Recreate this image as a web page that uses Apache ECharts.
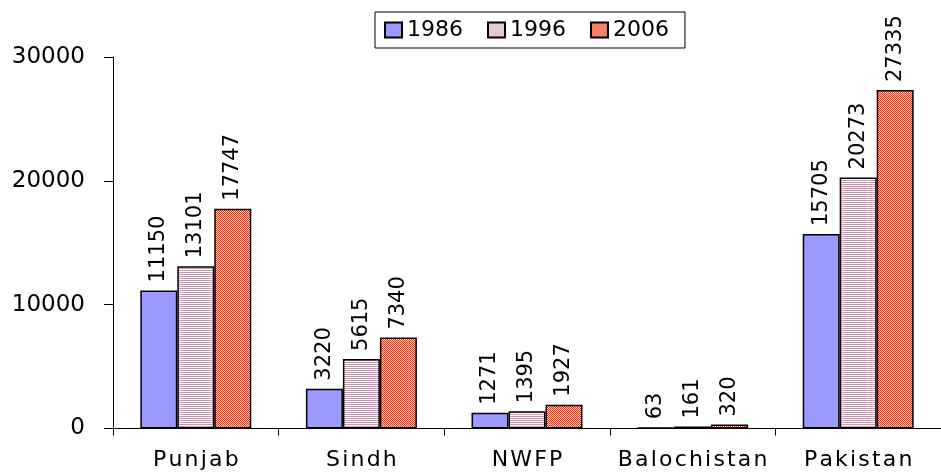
<!DOCTYPE html>
<html><head><meta charset="utf-8">
<script src="https://cdn.jsdelivr.net/npm/echarts@6/dist/echarts.min.js"></script>
<style>html,body{margin:0;padding:0;background:#fff}#c{width:941px;height:474px}</style>
</head><body><div id="c"></div>
<script>
const categories = ['Punjab', 'Sindh', 'NWFP', 'Balochistan', 'Pakistan'];
const seriesNames = ['1986', '1996', '2006'];
const values1986 = [11150, 3220, 1271, 63, 15705];
const values1996 = [13101, 5615, 1395, 161, 20273];
const values2006 = [17747, 7340, 1927, 320, 27335];
const yTicks = [0, 10000, 20000, 30000];

function makePattern(w, h, draw) {
  const cv = document.createElement('canvas');
  cv.width = w; cv.height = h;
  const ctx = cv.getContext('2d');
  draw(ctx);
  return { image: cv, repeat: 'repeat' };
}
const stripe = makePattern(2, 2, ctx => {
  ctx.fillStyle = '#ffffff'; ctx.fillRect(0, 0, 2, 2);
  ctx.fillStyle = '#cf92b1'; ctx.fillRect(0, 0, 2, 1);
});
const checker = makePattern(2, 2, ctx => {
  ctx.fillStyle = '#fb2a18'; ctx.fillRect(0, 0, 2, 2);
  ctx.fillStyle = '#ffd2b4'; ctx.fillRect(1, 0, 1, 1); ctx.fillRect(0, 1, 1, 1);
});

const FONT = 'DejaVu Sans';
const spaced = s => s.split('').join('\u200A');

function barSeries(name, data, color) {
  return {
    name: name, type: 'bar', data: data,
    barGap: '0%', barCategoryGap: '33%',
    itemStyle: { color: color, borderColor: '#000', borderWidth: 1.5 },
    label: {
      show: true, position: 'top', rotate: 90, align: 'left', verticalAlign: 'middle',
      distance: 8, fontFamily: FONT, fontSize: 21, color: '#000'
    }
  };
}

const chart = echarts.init(document.getElementById('c'), null, { renderer: 'canvas' });
chart.setOption({
  animation: false,
  backgroundColor: '#fff',
  textStyle: { fontFamily: FONT },
  legend: {
    data: seriesNames, left: 375, top: 12, icon: 'rect',
    padding: [7, 16, 7, 9], itemWidth: 17, itemHeight: 15, itemGap: 24,
    borderColor: '#000', borderWidth: 1,
    textStyle: { fontFamily: FONT, fontSize: 22, color: '#000' }
  },
  grid: { left: 113, top: 57, width: 840, height: 371.5, containLabel: false },
  xAxis: {
    type: 'category', data: categories,
    axisLine: { lineStyle: { color: '#000', width: 1 } },
    axisTick: { show: true, length: 7, lineStyle: { color: '#000' } },
    axisLabel: { interval: 0, fontFamily: FONT, fontSize: 22, color: '#000', margin: 21, formatter: spaced }
  },
  yAxis: {
    type: 'value', min: yTicks[0], max: yTicks[yTicks.length - 1], interval: yTicks[1] - yTicks[0],
    axisLine: { show: true, lineStyle: { color: '#000', width: 1 } },
    axisTick: { show: true, length: 9, lineStyle: { color: '#000' } },
    splitLine: { show: false },
    axisLabel: { fontFamily: FONT, fontSize: 23, color: '#000', margin: 28, formatter: v => String(v) }
  },
  series: [
    barSeries(seriesNames[0], values1986, '#9999ff'),
    barSeries(seriesNames[1], values1996, stripe),
    barSeries(seriesNames[2], values2006, checker)
  ]
});
</script>
</body></html>
